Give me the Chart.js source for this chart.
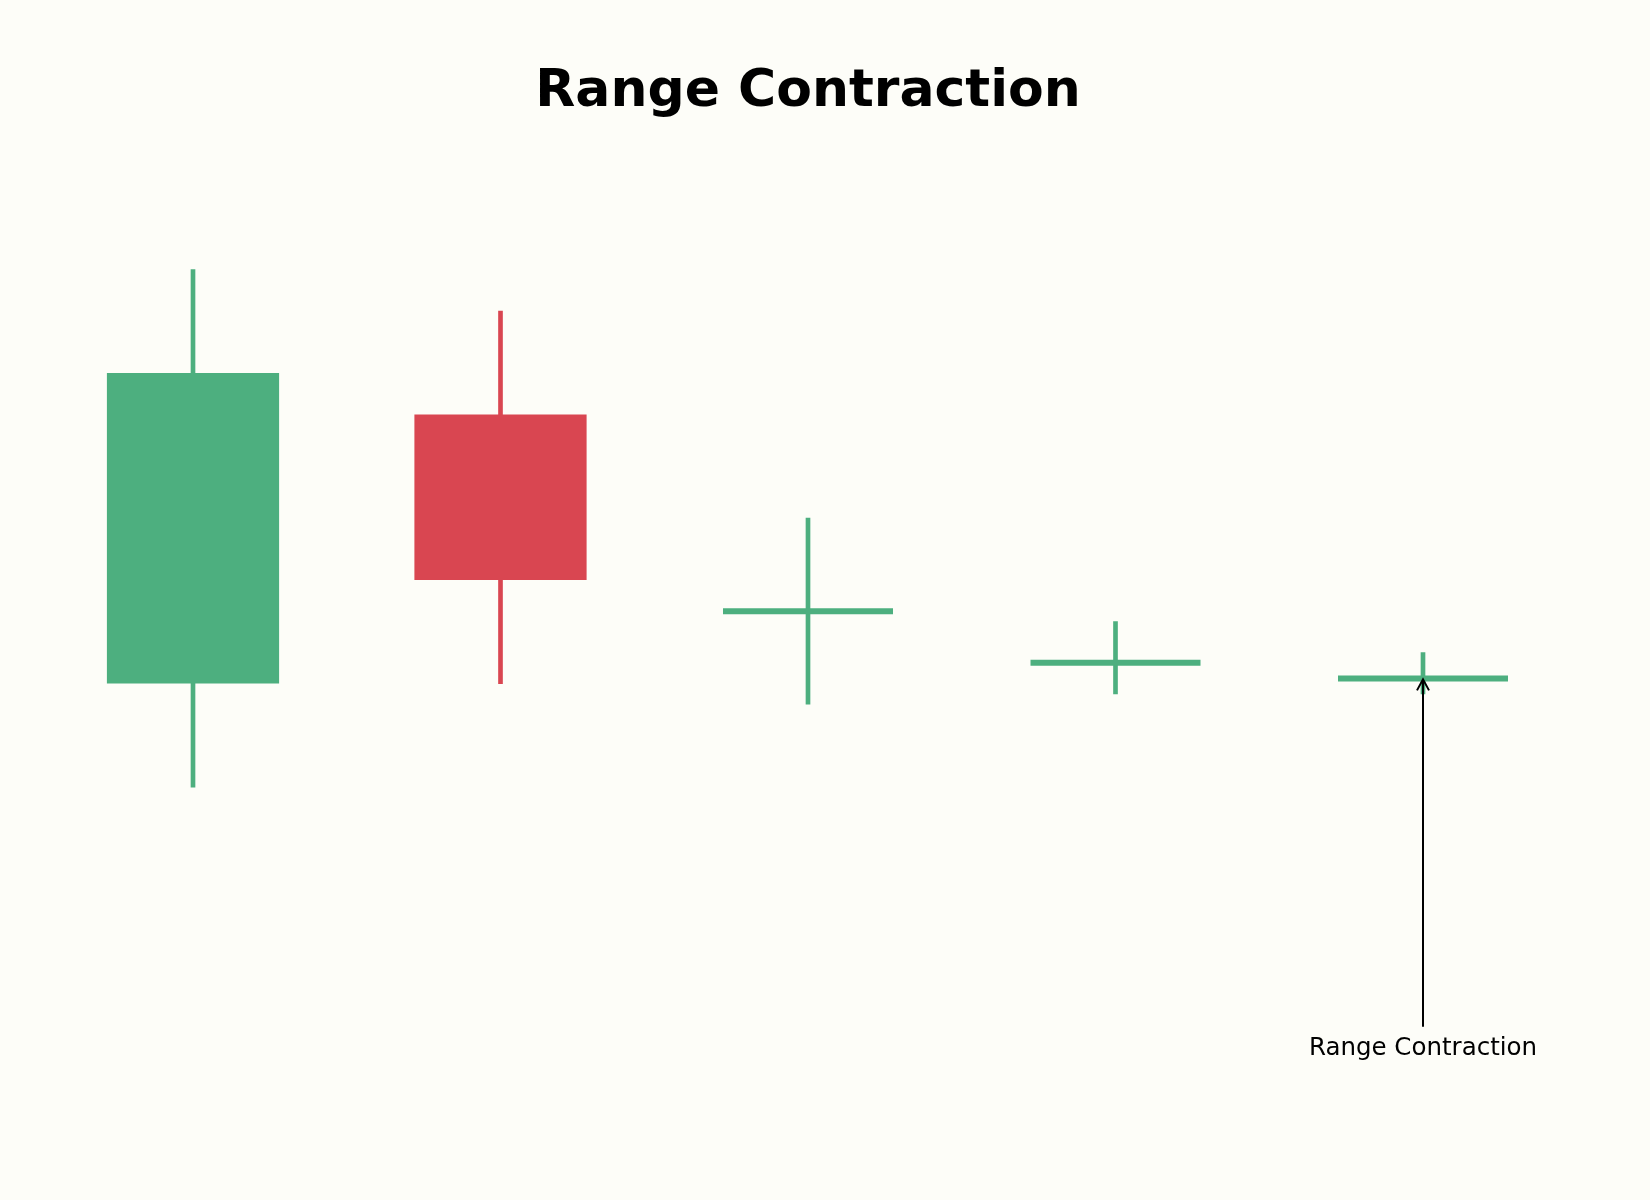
<!DOCTYPE html>
<html>
<head>
<meta charset="utf-8">
<script src="https://cdn.jsdelivr.net/npm/chart.js@4.4.1/dist/chart.umd.min.js"></script>
<style>
  html, body { margin: 0; padding: 0; background: #fdfdf8; }
  #wrap { width: 1650px; height: 1200px; position: relative; }
</style>
</head>
<body>
<div id="wrap"><canvas id="candles"></canvas></div>
<script>
Chart.defaults.font.family = 'DejaVu Sans, sans-serif'

const candleLabels = ['1', '2', '3', '4', '5'];
const opens  = [100, 105.2, 101.4, 100.4, 100.1];
const closes = [106, 102, 101.4, 100.4, 100.1];
const highs  = [108, 107.2, 103.2, 101.2, 100.6];
const lows   = [98, 100, 99.6, 99.8, 99.8];
const noteText = 'Range Contraction';
const noteAt = [4, 93];   // candle index, price where the label sits

const upColor = '#4daf7f';
const downColor = '#d94651';
const colors = opens.map((o, i) => closes[i] >= o ? upColor : downColor);

// title + arrow note, placed through the chart scales
const notesPlugin = {
    id: 'notes',
    afterDraw(chart) {
        const ctx = chart.ctx;
        const xs = chart.scales.x, ys = chart.scales.y;
        ctx.save();
        ctx.fillStyle = '#000';
        ctx.textAlign = 'center';
        ctx.textBaseline = 'alphabetic';
        ctx.font = 'bold 52px DejaVu Sans, sans-serif';
        ctx.fillText('Range Contraction', (xs.getPixelForValue(0) + xs.getPixelForValue(4)) / 2, 106);

        const x = xs.getPixelForValue(noteAt[0]);
        const tipY = ys.getPixelForValue(closes[noteAt[0]]);
        const textY = ys.getPixelForValue(noteAt[1]);
        ctx.font = '24.5px DejaVu Sans, sans-serif';
        ctx.textBaseline = 'middle';
        ctx.fillText(noteText, x, textY + 3);

        ctx.strokeStyle = '#000';
        ctx.lineWidth = 2;
        ctx.beginPath();
        ctx.moveTo(x, textY - 19);
        ctx.lineTo(x, tipY + 1);
        ctx.stroke();
        ctx.beginPath();
        ctx.moveTo(x - 6, tipY + 12);
        ctx.lineTo(x, tipY + 1);
        ctx.lineTo(x + 6, tipY + 12);
        ctx.stroke();
        ctx.restore();
    }
}

const data = {
    labels: candleLabels,
    datasets: [
        {
            type: 'line',
            label: 'doji',
            data: opens.map((o, i) => o === closes[i] ? closes[i] : null),
            showLine: false,
            pointStyle: 'line',
            pointRadius: 85,
            pointBorderWidth: 6,
            pointBorderColor: colors,
            pointBackgroundColor: colors
        },
        {
            label: 'body',
            data: opens.map((o, i) => o !== closes[i] ? [o, closes[i]] : null),
            backgroundColor: colors,
            borderColor: colors,
            borderWidth: 0,
            grouped: false,
            categoryPercentage: 1,
            barPercentage: 0.56
        },
        {
            label: 'wick',
            data: lows.map((l, i) => [l, highs[i]]),
            backgroundColor: colors,
            grouped: false,
            barThickness: 4
        }
    ]
};

const options = {
    responsive: true,
    maintainAspectRatio: false,
    animation: false,
    events: [],
    layout: {
        autoPadding: false,
        padding: { left: 39.25, right: 73.25, top: 0, bottom: 0 }
    },
    scales: {
        x: { display: false, offset: true },
        y: { display: false, min: 90.02, max: 113.21 }
    },
    plugins: {
        legend: { display: false },
        tooltip: { enabled: false },
        title: { display: false }
    }
}

const ctxCandles = document.getElementById('candles');
const candleChart = new Chart(ctxCandles, {
    type: 'bar',
    data: data,
    options: options,
    plugins: [notesPlugin]
});
</script>
</body>
</html>
